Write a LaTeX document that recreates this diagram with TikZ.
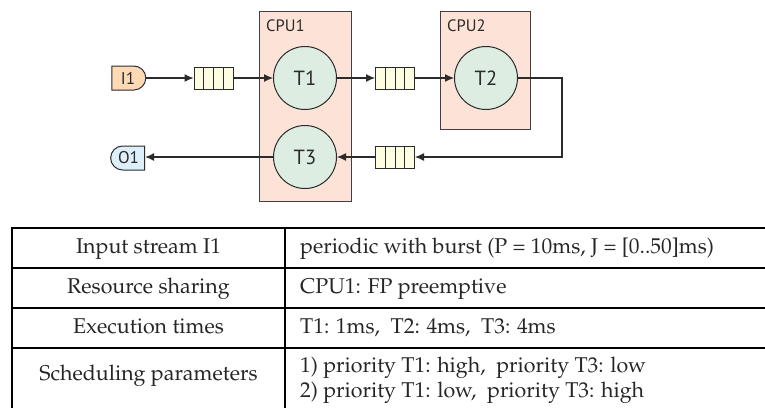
\documentclass[tikz,border=0pt]{standalone}
\usepackage[T1]{fontenc}
\usepackage{fontspec}
\setsansfont{PT Sans}
\usetikzlibrary{arrows.meta,shapes.misc,calc}
% serif face for the parameter table (URW Palladio)
\newcommand\tablefont{\fontencoding{T1}\fontfamily{ppl}\fontsize{21.4}{25}\selectfont}

\definecolor{cpufill}{HTML}{FCE2D7}
\definecolor{taskfill}{HTML}{DDEDE1}
\definecolor{queuefill}{HTML}{FFFDE1}
\definecolor{infill}{HTML}{FDD9B6}
\definecolor{outfill}{HTML}{DCEFFA}
\definecolor{ink}{HTML}{2B2B2B}

\tikzset{
  cpubox/.style={draw=ink!90, line width=1pt, fill=cpufill, inner sep=0pt},
  cpulabel/.style={font=\sffamily\fontsize{16.5}{16}\selectfont, text=ink, anchor=west, inner sep=0pt},
  task/.style={circle, draw=ink, line width=1pt, fill=taskfill, minimum size=63pt, inner sep=0pt,
    font=\sffamily\fontsize{20.5}{20}\selectfont, text=ink},
  queue/.style={draw=ink, line width=1pt, fill=queuefill, minimum width=39pt, minimum height=22pt, inner sep=0pt,
    path picture={
      \foreach \i in {1,2,3}
        \draw[ink, line width=1pt]
          ($(path picture bounding box.north west)!\i/4!(path picture bounding box.north east)$) --
          ($(path picture bounding box.south west)!\i/4!(path picture bounding box.south east)$);
    }},
  port/.style={rounded rectangle, draw=ink, line width=1pt, minimum width=34pt, minimum height=24pt,
    inner sep=0pt, font=\sffamily\fontsize{17}{17}\selectfont, text=ink},
  arr/.style={draw=ink, line width=1.1pt, -{Latex[length=9pt,width=8pt]}},
  rule/.style={line width=2.5pt, black},
  cell/.style={font=\tablefont, inner sep=0pt, text=black!85},
}

\begin{document}
\begin{tikzpicture}[x=1pt, y=-1pt]
\useasboundingbox (0,0) rectangle (765,408);

% processing resources
\node[cpubox, minimum width=92pt, minimum height=190pt] (cpu1) at (305,106) {};
\node[cpulabel] (cpu1lbl) at (266,26) {CPU1};
\node[cpubox, minimum width=90pt, minimum height=118pt] (cpu2) at (485,70) {};
\node[cpulabel] (cpu2lbl) at (447,26) {CPU2};

% tasks
\node[task] (t1) at (305,78) {T1};
\node[task] (t2) at (486,78) {T2};
\node[task] (t3) at (305,157) {T3};

% event queues
\node[queue] (q1) at (213.5,78) {};
\node[queue] (q2) at (395,78) {};
\node[queue] (q3) at (395,157) {};

% input and output streams
\node[port, fill=infill, rounded rectangle left arc=none] (i1) at (128,78) {I1};
\node[port, fill=outfill, rounded rectangle right arc=none] (o1) at (128.5,158) {O1};

% event flow
\draw[arr] (i1.east) -- (q1.west);
\draw[arr] (q1.east) -- (t1.west);
\draw[arr] (t1.east) -- (q2.west);
\draw[arr] (q2.east) -- (t2.west);
\coordinate (turn) at (562,78);
\draw[arr] (t2.east) -- (turn) -- (turn |- q3.east) -- (q3.east);
\draw[arr] (q3.west) -- (t3.east);
\draw[arr] (t3.west) -- (t3.west -| o1.east);

% parameter table
\draw[rule] (12,228) -- (765,228);
\draw[rule] (12,268) -- (765,268);
\draw[rule] (12,308) -- (765,308);
\draw[rule] (12,348) -- (765,348);
\draw[rule] (12,226.75) -- (12,408);
\draw[rule] (285,228) -- (285,408);

\node[cell, anchor=base] (k1) at (148.5,253) {Input stream I1};
\node[cell, anchor=base] (k2) at (148.5,293) {Resource sharing};
\node[cell, anchor=base] (k3) at (148.5,333) {Execution times};
\node[cell, anchor=base] (k4) at (148.5,380) {Scheduling parameters};

\node[cell, anchor=base west] (v1) at (300,253) {periodic with burst (P = 10ms, J = [0..50]ms)};
\node[cell, anchor=base west] (v2) at (300,293) {CPU1: FP preemptive};
\node[cell, anchor=base west] (v3) at (300,333) {T1: 1ms,\ \ T2: 4ms,\ \ T3: 4ms};
\node[cell, anchor=base west] (v4a) at (300,372) {1) priority T1: high,\ \ priority T3: low};
\node[cell, anchor=base west] (v4b) at (300,397) {2) priority T1: low,\ \ priority T3: high};
\end{tikzpicture}
\end{document}
